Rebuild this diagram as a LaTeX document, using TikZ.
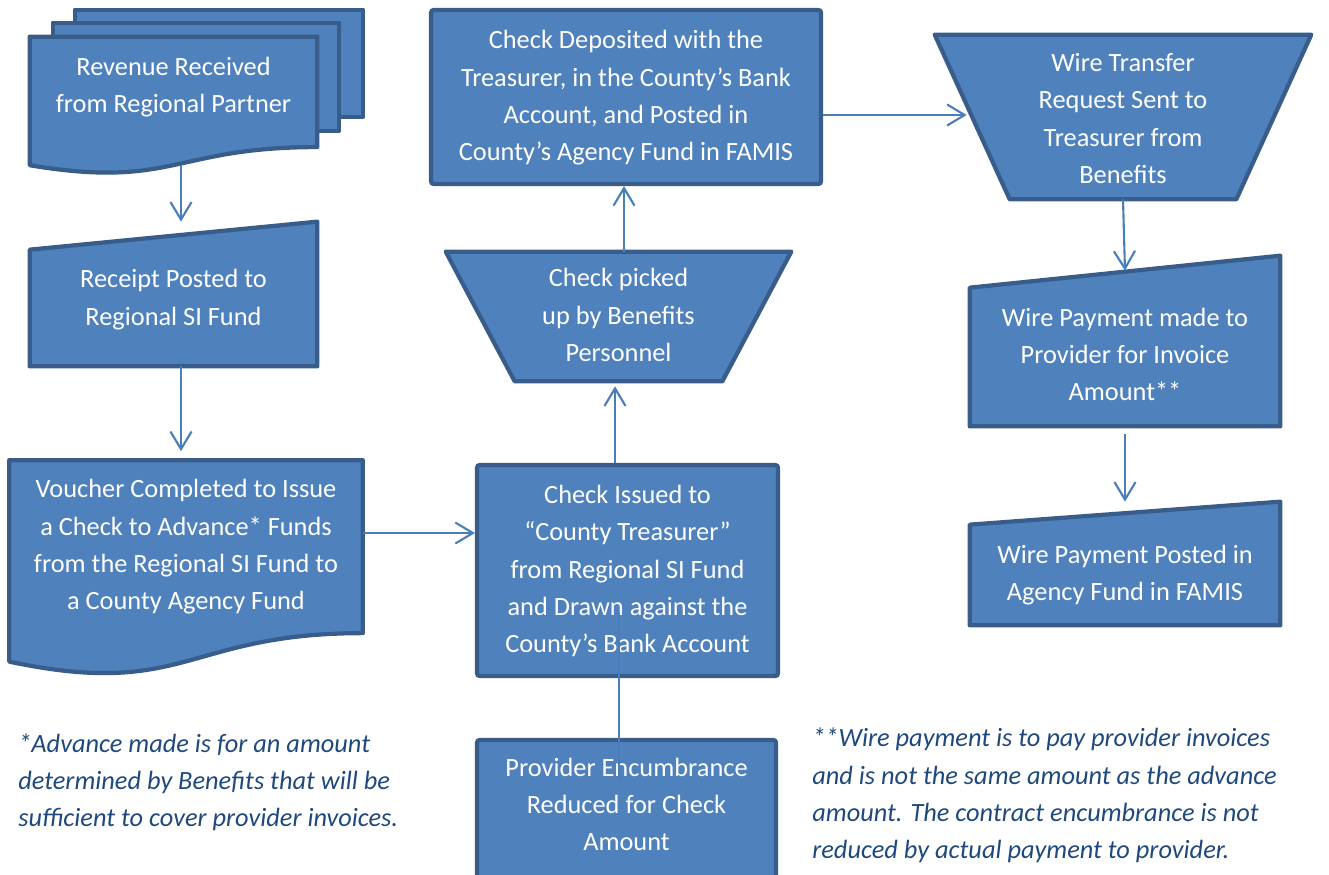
\documentclass[tikz,border=0pt]{standalone}
\usepackage{fontspec}
\setmainfont{Carlito}
\usetikzlibrary{arrows.meta,calc,backgrounds}

\definecolor{boxfill}{HTML}{4F81BD}
\definecolor{boxline}{HTML}{385D8A}
\definecolor{arrowblue}{HTML}{4A7EBB}
\definecolor{notetext}{HTML}{1F497D}

% text lines of a box, raised by #1
\newcommand{\boxlines}[2]{\raisebox{\dimexpr#1-3.7pt\relax}[0pt][0pt]{\begin{tabular}{@{}c@{}}#2\end{tabular}}}

\tikzset{
  flow/.style={text=white, font=\fontsize{15}{21.2}\selectfont, inner sep=0pt},
  process/.style={flow, rectangle, draw=boxline, fill=boxfill, line width=2.4pt, rounded corners=1.5pt},
  hidden/.style={flow, rectangle},
  outline/.style={draw=boxline, fill=boxfill, line width=2.4pt, line join=round},
  arr/.style={draw=arrowblue, line width=1.2pt, -{Straight Barb[length=10pt,width=12pt]}},
  note/.style={text=notetext, font=\fontsize{15}{21.2}\selectfont\itshape, align=left, inner sep=0pt, anchor=west}
}

% document shape with wavy bottom
\newcommand{\docoutline}[1]{%
  \path[outline] (#1.north west) -- (#1.north east)
    -- ($(#1.north east)!0.802!(#1.south east)$)
    .. controls ($(#1.north)!0.802!(#1.south)$) and ($(#1.north)!1.1075!(#1.south)$)
    .. ($(#1.north west)!0.934!(#1.south west)$) -- cycle;}
% manual input shape, left corner lower by #2
\newcommand{\inputoutline}[2]{%
  \path[outline] (#1.south west) -- ([yshift=-#2]#1.north west) -- (#1.north east) -- (#1.south east) -- cycle;}
% manual operation shape, bottom corners moved in by #2
\newcommand{\trapoutline}[2]{%
  \path[outline] (#1.north west) -- (#1.north east) -- ([xshift=-#2]#1.south east) -- ([xshift=#2]#1.south west) -- cycle;}

\begin{document}
\begin{tikzpicture}[x=0.02cm, y=-0.02cm]
\useasboundingbox (0,0) rectangle (1329,875);

% left column
\node[hidden, minimum width=5.74cm, minimum height=2.74cm] (rev) at (173.5,105.5) {\boxlines{11pt}{Revenue Received\\from Regional Partner}};
\node[hidden, minimum width=5.74cm, minimum height=2.88cm] (rcpt) at (173.5,294) {\boxlines{-2.8pt}{Receipt Posted to\\Regional SI Fund}};
\node[hidden, minimum width=7.06cm, minimum height=4.30cm] (vouch) at (186,568) {\boxlines{12.5pt}{Voucher Completed to Issue\\a Check to Advance* Funds\\from the Regional SI Fund to\\a County Agency Fund}};

% middle column
\node[process, minimum width=6.02cm, minimum height=4.22cm] (issued) at (627.5,570.5) {\boxlines{0pt}{Check Issued to\\“County Treasurer”\\from Regional SI Fund\\and Drawn against the\\County’s Bank Account}};
\node[process, minimum width=5.98cm, minimum height=2.76cm] (provider) at (626.5,809) {\boxlines{1.7pt}{Provider Encumbrance\\Reduced for Check\\Amount}};
\node[hidden, minimum width=6.90cm, minimum height=2.58cm] (picked) at (618.5,316.5) {\boxlines{0pt}{Check picked\\up by Benefits\\Personnel}};
\node[process, minimum width=7.80cm, minimum height=3.48cm] (dep) at (626,97) {\boxlines{0pt}{Check Deposited with the\\Treasurer, in the County’s Bank\\Account, and Posted in\\County’s Agency Fund in FAMIS}};

% right column
\node[hidden, minimum width=7.52cm, minimum height=3.28cm] (wire) at (1123,117) {\boxlines{-1.7pt}{Wire Transfer\\Request Sent to\\Treasurer from\\Benefits}};
\node[hidden, minimum width=6.20cm, minimum height=3.40cm] (made) at (1125,341) {\boxlines{-8.5pt}{Wire Payment made to\\Provider for Invoice\\Amount**}};
\node[hidden, minimum width=6.20cm, minimum height=2.46cm] (posted) at (1125,563.5) {\boxlines{-6pt}{Wire Payment Posted in\\Agency Fund in FAMIS}};

% notes
\node[note] (noteA) at (18,782.5) {*Advance made is for an amount\\determined by Benefits that will be\\sufficient to cover provider invoices.};
\node[note] (noteB) at (812,795.5) {**Wire payment is to pay provider invoices\\and is not the same amount as the advance\\amount. The contract encumbrance is not\\reduced by actual payment to provider.};

\begin{scope}[on background layer]
\path[outline] ([xshift=0.9cm,yshift=0.54cm]rev.north west) rectangle ([xshift=0.92cm,yshift=-1.6cm]rev.north east);
\path[outline] ([xshift=0.46cm,yshift=0.28cm]rev.north west) rectangle ([xshift=0.44cm,yshift=-1.88cm]rev.north east);
\docoutline{rev}
\docoutline{vouch}
\inputoutline{rcpt}{0.56cm}
\inputoutline{made}{0.64cm}
\inputoutline{posted}{0.46cm}
\trapoutline{picked}{1.38cm}
\trapoutline{wire}{1.5cm}
\end{scope}

% connectors
\draw[arr] ([xshift=0.15cm,yshift=0.18cm]rev.south) -- ([xshift=0.15cm]rev.south |- rcpt.north);
\draw[arr] ([xshift=0.15cm]rcpt.south) -- ([xshift=0.15cm,yshift=0.18cm]rcpt.south |- vouch.north);
\draw[arr] ([yshift=0.7cm]vouch.east) -- ([yshift=0.7cm]vouch.east -| issued.west);
\draw[arr] ([xshift=-0.25cm]issued.north) -- ([xshift=-0.25cm,yshift=-0.1cm]issued.north |- picked.south);
\draw[arr] ([xshift=0.11cm]picked.north) -- ([xshift=0.11cm]picked.north |- dep.south);
\draw[arr] ([yshift=-0.36cm]dep.east) -- ([xshift=0.64cm,yshift=-0.36cm]dep.east -| wire.west);
\draw[arr] (wire.south) -- ([yshift=-0.3cm]made.north);
\draw[arr, shorten <=0.16cm] (made.south) -- (posted.north);
\draw[draw=arrowblue, line width=1.2pt] ([xshift=-0.17cm,yshift=-0.85cm]issued.center) -- ([xshift=-0.17cm,yshift=-0.85cm]issued.center |- provider.north);
\end{tikzpicture}
\end{document}
